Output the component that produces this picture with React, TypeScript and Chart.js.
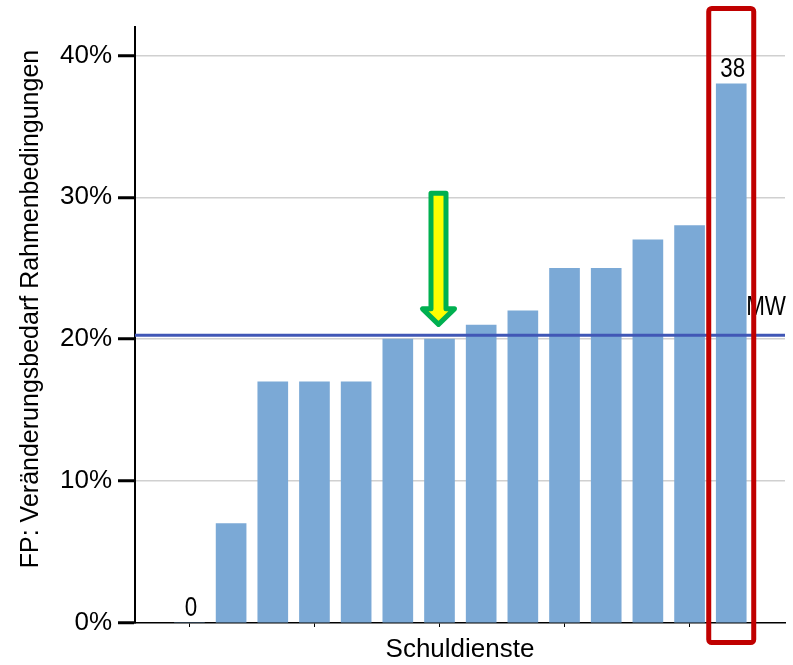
import React, { useEffect, useRef } from 'react';
import { Chart, registerables } from 'chart.js';

Chart.register(...registerables);

// ---- data ----
const barValues = [0, 7, 17, 17, 17, 20, 20, 21, 22, 25, 25, 27, 28, 38];
const barIndices = barValues.map((_, i) => i);
const xTickPositions = [0, 3, 6, 9, 12];
const yTickValues = [0, 10, 20, 30, 40];
const labelledBars = [0, 13];
const arrowBar = 6;
const highlightBar = 13;
const yAxisTitle = 'FP: Veränderungsbedarf Rahmenbedingungen';
const xAxisTitle = 'Schuldienste';
const meanLabel = 'MW';
const meanValue = barValues.reduce((a, b) => a + b, 0) / barValues.length;

const X_MIN = -1.306;
const X_MAX = 14.29;
const Y_MAX = 42;
const FONT = '"Liberation Sans", Arial, sans-serif';

function narrowText(ctx: CanvasRenderingContext2D, text: string, x: number, y: number, align: 'center' | 'right') {
  const sx = 0.8;
  ctx.save();
  ctx.translate(x, y);
  ctx.scale(sx, 1);
  ctx.textAlign = align;
  ctx.fillText(text, 0, 0);
  ctx.restore();
}

const overlayPlugin = {
  id: 'overlay',
  afterDraw(chart: any) {
    const { ctx, scales, chartArea } = chart;
    const x = scales.x;
    const y = scales.y;
    ctx.save();

    // y axis title
    ctx.save();
    ctx.font = '25px ' + FONT;
    ctx.fillStyle = '#000';
    ctx.textAlign = 'center';
    ctx.textBaseline = 'middle';
    ctx.translate(31, (chartArea.top + chartArea.bottom) / 2 - 16);
    ctx.rotate(-Math.PI / 2);
    ctx.fillText(yAxisTitle, 0, 0);
    ctx.restore();

    // value labels
    ctx.font = '28px ' + FONT;
    ctx.fillStyle = '#000';
    ctx.textBaseline = 'alphabetic';
    labelledBars.forEach((i) => {
      const px = x.getPixelForValue(i);
      const py = y.getPixelForValue(barValues[i]);
      narrowText(ctx, String(barValues[i]), px + 1.5, py - 7, 'center');
    });

    // MW label
    const my = y.getPixelForValue(meanValue);
    narrowText(ctx, meanLabel, chartArea.right + 1, my - 20, 'right');

    // arrow
    const cx = x.getPixelForValue(arrowBar) - 1;
    const tipY = my - 10.8;
    const topY = tipY - 131;
    const headBase = tipY - 15.5;
    ctx.beginPath();
    ctx.moveTo(cx - 7.5, topY);
    ctx.lineTo(cx + 7.5, topY);
    ctx.lineTo(cx + 7.5, headBase);
    ctx.lineTo(cx + 16, headBase);
    ctx.lineTo(cx, tipY);
    ctx.lineTo(cx - 16, headBase);
    ctx.lineTo(cx - 7.5, headBase);
    ctx.closePath();
    ctx.fillStyle = '#FFFF00';
    ctx.fill();
    ctx.lineJoin = 'round';
    ctx.lineWidth = 5;
    ctx.strokeStyle = '#00B050';
    ctx.stroke();

    // highlight rectangle
    const hx = x.getPixelForValue(highlightBar);
    const rx = hx - 22.5;
    const ry = chartArea.top - 18.5;
    const rw = 45;
    const rh = chartArea.bottom + 19.5 - ry;
    ctx.beginPath();
    if ((ctx as any).roundRect) {
      (ctx as any).roundRect(rx, ry, rw, rh, 3);
    } else {
      ctx.rect(rx, ry, rw, rh);
    }
    ctx.lineWidth = 5;
    ctx.strokeStyle = '#C00000';
    ctx.stroke();

    ctx.restore();
  },
};

export default function App() {
  const canvasRef = useRef<HTMLCanvasElement | null>(null);

  useEffect(() => {
    document.body.style.margin = '0';
    const canvas = canvasRef.current;
    if (!canvas) return;
    const font = 'Liberation Sans, Arial, sans-serif';
    const chart = new Chart(canvas, {
      type: 'bar',
      data: {
        datasets: [
          {
            type: 'line',
            data: [
              { x: X_MIN, y: meanValue },
              { x: X_MAX, y: meanValue },
            ],
            borderColor: '#4157B6',
            borderWidth: 3,
            pointRadius: 0,
            fill: false,
            order: 0,
          } as any,
          {
            type: 'bar',
            data: barIndices.map((i) => ({ x: i, y: barValues[i] })),
            backgroundColor: '#7BA9D6',
            borderWidth: 0,
            barThickness: 30,
            order: 1,
          } as any,
        ],
      },
      options: {
        animation: false,
        responsive: false,
        maintainAspectRatio: false,
        layout: { padding: { left: 0, top: 27, right: 8, bottom: 0 } },
        plugins: {
          legend: { display: false },
          tooltip: { enabled: false },
        },
        scales: {
          x: {
            type: 'linear',
            min: X_MIN,
            max: X_MAX,
            offset: false,
            afterBuildTicks: (s: any) => {
              s.ticks = xTickPositions.map((v) => ({ value: v }));
            },
            afterFit: (s: any) => {
              s.height = 42;
            },
            ticks: { display: false },
            grid: {
              offset: false,
              drawOnChartArea: false,
              drawTicks: true,
              tickLength: 4,
              tickColor: '#000',
              tickWidth: 1,
            },
            border: { color: '#000', width: 1.5 },
            title: {
              display: true,
              text: xAxisTitle,
              color: '#000',
              font: { family: font, size: 26 },
              padding: 0,
            },
          },
          y: {
            type: 'linear',
            min: 0,
            max: Y_MAX,
            afterBuildTicks: (s: any) => {
              s.ticks = yTickValues.map((v) => ({ value: v }));
            },
            afterFit: (s: any) => {
              s.width = 135;
            },
            ticks: {
              callback: (v: any) => v + '%',
              color: '#000',
              font: { family: font, size: 26 },
              padding: 6,
            },
            grid: {
              color: (c: any) => (c.tick && c.tick.value === 0 ? 'rgba(0,0,0,0)' : '#D0D0D0'),
              lineWidth: 1.5,
              tickColor: '#000',
              tickWidth: 3,
              tickLength: 17,
            },
            border: { color: '#000', width: 2 },
            title: { display: false },
          },
        },
      },
      plugins: [overlayPlugin],
    } as any);
    return () => chart.destroy();
  }, []);

  return (
    <div style={{ position: 'absolute', left: 0, top: 0, width: 793, height: 665 }}>
      <canvas ref={canvasRef} width={793} height={665} style={{ width: 793, height: 665 }} />
    </div>
  );
}
